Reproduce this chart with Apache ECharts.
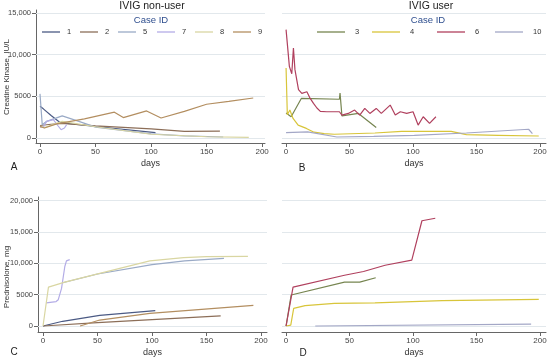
<!DOCTYPE html>
<html><head><meta charset="utf-8">
<script src="https://cdn.jsdelivr.net/npm/echarts@6/dist/echarts.min.js"></script>
<style>html,body{margin:0;padding:0;background:#fff}#c{width:550px;height:360px}</style>
</head><body><div id="c"></div>
<script>
// ---- data ----
const xTicks = [0, 50, 100, 150, 200];
const ckTicks = [0, 5000, 10000, 15000];
const predTicks = [0, 5000, 10000, 15000, 20000];
const nonUserIds = ['1', '2', '5', '7', '8', '9'];
const userIds = ['3', '4', '6', '10'];

// Creatine kinase (IU/L), IVIG non-users: [day, value]
const ck_1 = [[0,3800],[3,3500],[10,2700],[18,1850],[50,1380],[104,650]];
const ck_2 = [[0,1500],[10,1650],[20,1750],[50,1450],[100,1100],[130,800],[162,820]];
const ck_5 = [[0,5300],[2,1600],[6,2000],[20,2650],[35,2000],[50,1300],[100,500],[130,250],[165,120]];
const ck_7 = [[0,1300],[3,1300],[6,2000],[12,2200],[16,1500],[19,1000],[22,1200],[24,1600]];
const ck_8 = [[0,1400],[4,1250],[20,2000],[50,1350],[100,450],[150,150],[188,80]];
const ck_9 = [[0,1400],[4,1200],[15,1700],[40,2300],[67,3100],[75,2450],[96,3250],[109,2400],[130,3200],[150,4050],[170,4400],[192,4800]];
// Creatine kinase (IU/L), IVIG users
const ck_3 = [[0,3000],[4,2550],[12,4750],[42,4650],[42.5,5400],[44,2650],[57,2950],[71,1250]];
const ck_4 = [[0,8400],[1,2800],[3,3350],[5.5,2350],[9.5,1550],[12,1400],[16,1150],[22,700],[30,520],[38,450],[70,600],[91,800],[130,800],[142,400],[167,320],[199,240]];
const ck_6 = [[0,13000],[2.6,8600],[4.5,7700],[5.8,10800],[7,8200],[9.8,5800],[12.4,5350],[16.4,5550],[19,4750],[21.6,4150],[24.3,3600],[27,3200],[32,3150],[37,3150],[42,3150],[44,2750],[49,2950],[54,3350],[58,2750],[62,3550],[66,2950],[71,3550],[75,2950],[82,3950],[86,2750],[90,3150],[95,2950],[100,3150],[104,1550],[108,2550],[113,1750],[118,2550]];
const ck_10 = [[0,650],[17,730],[40,120],[69,200],[101,320],[142,600],[191,1050],[194,520]];

// Cumulative prednisolone (mg), IVIG non-users
const pred_1 = [[0,0],[18,750],[52,1700],[103,2450]];
const pred_2 = [[0,0],[50,550],[100,1000],[163,1600]];
const pred_5 = [[18,6900],[50,8300],[100,9800],[130,10400],[166,10800]];
const pred_7 = [[3,3700],[12,3900],[14,4200],[17,6000],[20,9500],[21.5,10400],[24.5,10600]];
const pred_8 = [[0,0],[5,6200],[20,7000],[52,8400],[98,10400],[129,10900],[150,11060],[188,11100]];
const pred_9 = [[34,0],[52,950],[98,2000],[193,3300]];
// Cumulative prednisolone (mg), IVIG users
const pred_3 = [[0,0],[4,4950],[46,7000],[58,7000],[70.6,7700]];
const pred_4 = [[0,0],[3.7,150],[6,2800],[15,3250],[38,3600],[70,3700],[123,4050],[199,4250]];
const pred_6 = [[0,0],[5.5,6200],[46,8100],[61,8700],[78,9700],[99,10500],[107,16800],[117.5,17200]];
const pred_10 = [[23,0],[193,300]];

const colors = {
  '1': '#4b5a84', '2': '#8c6e58', '5': '#9aaac6', '7': '#b3ace6', '8': '#d9d6a2', '9': '#b38e60',
  '3': '#768550', '4': '#d8c53a', '6': '#b0405e', '10': '#a3a7c6'
};

// ---- chart ----
const FONT = 'Liberation Sans, Arial, sans-serif';
const chart = echarts.init(document.getElementById('c'), null, {renderer: 'canvas'});
const fmt = v => v >= 10000 ? v.toLocaleString('en-US') : String(v);

const grids = [
  {left: 36, right: 285, top: 10, bottom: 217},   // A
  {left: 282, right: 4, top: 10, bottom: 217},    // B
  {left: 38, right: 283, top: 197, bottom: 28},   // C
  {left: 282, right: 4, top: 197, bottom: 28}     // D
];

function xAxis(gi, min, max) {
  return {
    type: 'value', gridIndex: gi, min: min, max: max,
    name: 'days', nameLocation: 'middle', nameGap: 16,
    nameTextStyle: {fontFamily: FONT, fontSize: 9, color: '#333'},
    axisLine: {show: true, onZero: false, lineStyle: {color: '#666', width: 1}},
    axisTick: {show: true, length: 4, lineStyle: {color: '#666'}, customValues: xTicks},
    axisLabel: {fontFamily: FONT, fontSize: 8, color: '#444', margin: 5, customValues: xTicks},
    splitLine: {show: false}
  };
}
function yAxis(gi, min, max, ticks, showAxis) {
  return {
    type: 'value', gridIndex: gi, min: min, max: max,
    axisLine: {show: showAxis, onZero: false, lineStyle: {color: '#666', width: 1}},
    axisTick: {show: showAxis, length: 4, lineStyle: {color: '#666'}, customValues: ticks},
    axisLabel: {show: showAxis, fontFamily: FONT, fontSize: 7.5, color: '#444', margin: 5, customValues: ticks, formatter: fmt},
    splitLine: {show: false}
  };
}

const series = [];
function addSeries(name, data, gi, withGrid, ticks) {
  const s = {
    name: name, type: 'line', xAxisIndex: gi, yAxisIndex: gi, data: data,
    symbol: 'none', smooth: false, animation: false,
    lineStyle: {color: colors[name], width: 1.2},
    itemStyle: {color: colors[name]}, z: 3
  };
  if (withGrid) {
    s.markLine = {
      silent: true, symbol: ['none', 'none'], animation: false,
      label: {show: false},
      lineStyle: {color: '#e2e8ec', width: 1, type: 'solid'},
      data: ticks.map(t => ({yAxis: t})),
      z: 1
    };
  }
  series.push(s);
}
const ckA = {'1': ck_1, '2': ck_2, '5': ck_5, '7': ck_7, '8': ck_8, '9': ck_9};
const ckB = {'3': ck_3, '4': ck_4, '6': ck_6, '10': ck_10};
const prC = {'1': pred_1, '2': pred_2, '5': pred_5, '7': pred_7, '8': pred_8, '9': pred_9};
const prD = {'3': pred_3, '4': pred_4, '6': pred_6, '10': pred_10};
nonUserIds.forEach((id, i) => addSeries(id, ckA[id], 0, i === 0, ckTicks));
userIds.forEach((id, i) => addSeries(id, ckB[id], 1, i === 0, ckTicks));
nonUserIds.forEach((id, i) => addSeries(id, prC[id], 2, i === 0, predTicks));
userIds.forEach((id, i) => addSeries(id, prD[id], 3, i === 0, predTicks));

// legends: one per key, placed like the original
const legA = [42, 80, 118, 157, 195, 233];
const legB = [317, 372, 437, 495];
const legends = [];
nonUserIds.forEach((id, i) => legends.push({
  data: [id], left: legA[i], top: 28, padding: 0, icon: 'rect', itemWidth: 18, itemHeight: 1.3,
  itemGap: 0, textStyle: {fontFamily: FONT, fontSize: 7.5, color: '#333', padding: [0, 0, 0, 2]},
  selectedMode: false
}));
userIds.forEach((id, i) => legends.push({
  data: [id], left: legB[i], top: 28, padding: 0, icon: 'rect', itemWidth: 28, itemHeight: 1.3,
  itemGap: 0, textStyle: {fontFamily: FONT, fontSize: 7.5, color: '#333', padding: [0, 0, 0, 5]},
  selectedMode: false
}));

function txt(text, x, y, size, color, rot) {
  return {type: 'text', x: x, y: y, rotation: rot || 0, silent: true,
    style: {text: text, fontFamily: FONT, fontSize: size, fill: color, textAlign: 'center', textVerticalAlign: 'middle'}};
}

chart.setOption({
  animation: false,
  backgroundColor: '#ffffff',
  grid: grids,
  xAxis: [xAxis(0, -3.6, 202.6), xAxis(1, -3.2, 204.7), xAxis(2, -4.6, 205.5), xAxis(3, -3.2, 204.7)],
  yAxis: [yAxis(0, -600, 15360, ckTicks, true), yAxis(1, -600, 15360, ckTicks, false),
          yAxis(2, -960, 20590, predTicks, true), yAxis(3, -960, 20590, predTicks, false)],
  legend: legends,
  series: series,
  graphic: [
    txt('IVIG non-user', 152, 6, 10.5, '#222'),
    txt('Case ID', 151, 20, 9.5, '#2e4e8e'),
    txt('IVIG user', 431, 6, 10.5, '#222'),
    txt('Case ID', 428, 20, 9.5, '#2e4e8e'),
    txt('Creatine Kinase, IU/L', 7, 77, 8, '#333', Math.PI / 2),
    txt('Prednisolone, mg', 7, 277, 8, '#333', Math.PI / 2),
    txt('A', 14, 167, 10, '#222'),
    txt('B', 302, 168, 10, '#222'),
    txt('C', 14, 352, 10, '#222'),
    txt('D', 303, 353, 10, '#222')
  ]
});
</script></body></html>
